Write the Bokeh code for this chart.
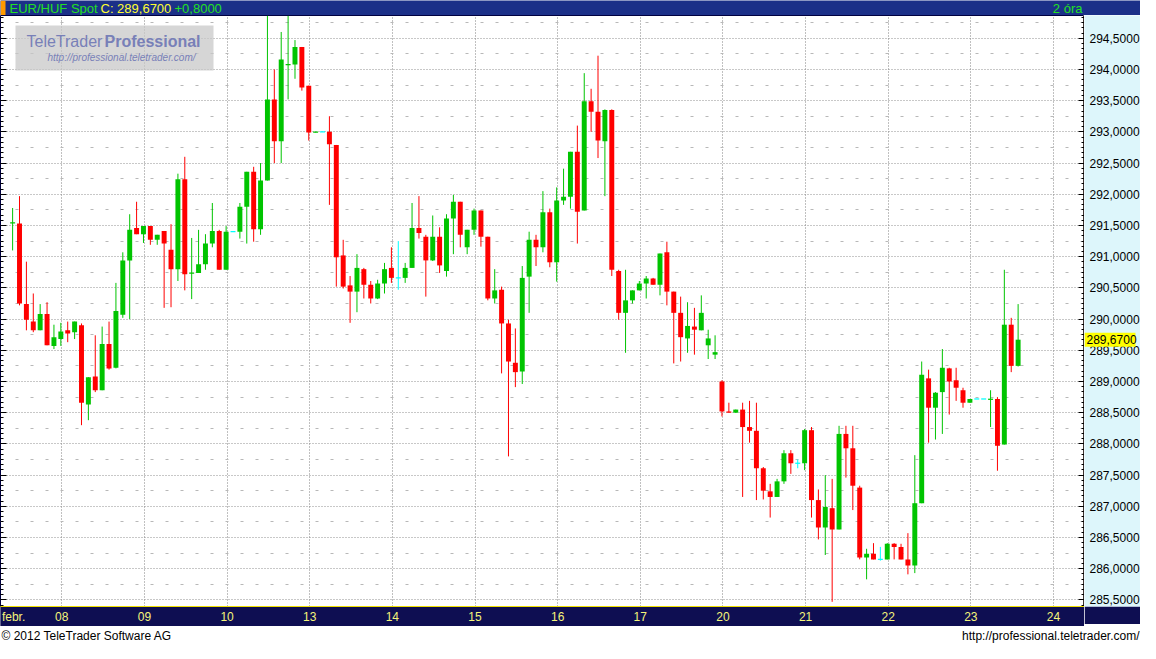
import numpy as np
from bokeh.plotting import figure
from bokeh.layouts import column, row
from bokeh.models import (FixedTicker, LinearAxis, Grid, BoxAnnotation, Label,
                          CustomJSTickFormatter, Range1d, ColumnDataSource)
from bokeh.core.properties import value
from bokeh.embed import file_html
from bokeh.resources import INLINE

# ---------------- data (EUR/HUF spot, 2-hour bars) ----------------
month_label = "febr."
day_labels = ["08", "09", "10", "13", "14", "15", "16", "17", "20", "21", "22", "23", "24"]

opens = [
    291.53, 291.53, 290.24, 289.96, 289.82, 290.08, 289.57, 289.68, 289.82, 289.79,
    289.90, 288.63, 289.08, 288.86, 289.60, 289.22, 290.07, 290.94, 291.46, 291.36,
    291.49, 291.27, 291.41, 291.11, 290.80, 292.24, 290.73, 290.74, 290.88, 291.21,
    291.41, 290.79, 291.40, 291.40, 291.80, 292.36, 291.44, 292.22, 293.52, 292.85,
    294.07, 294.08, 294.36, 293.74, 292.99, 293.00, 293.00, 292.79, 291.02, 290.54,
    290.44, 290.80, 290.55, 290.33, 290.57, 290.82, 290.66, 290.66, 290.82, 291.46,
    291.32, 290.94, 291.32, 290.77, 291.61, 291.88, 291.15, 291.43, 291.74, 291.32,
    290.33, 290.47, 289.93, 289.30, 289.16, 290.68, 291.27, 291.15, 291.71, 290.91,
    291.90, 291.96, 292.68, 291.74, 293.49, 293.32, 292.85, 293.35, 290.77, 290.10,
    290.30, 290.46, 290.57, 290.65, 290.55, 291.07, 290.44, 290.10, 289.69, 289.88,
    289.82, 289.58, 289.43, 289.00, 288.52, 288.50, 288.55, 288.27, 288.21, 287.61,
    287.24, 287.15, 287.40, 287.85, 287.69, 287.69, 288.22, 287.10, 286.66, 286.97,
    286.63, 288.16, 287.93, 287.30, 286.18, 286.24, 286.15, 286.15, 286.40, 286.35,
    286.15, 286.05, 287.05, 289.05, 288.58, 288.83, 289.21, 289.02, 288.86, 288.66,
    288.72, 288.72, 288.71, 288.72, 287.99, 289.91, 289.25]

highs = [
    291.78, 291.97, 290.92, 290.41, 290.24, 290.27, 289.91, 289.94, 289.96, 289.96,
    289.93, 289.07, 289.74, 289.88, 289.96, 290.58, 291.07, 291.68, 291.88, 291.49,
    291.49, 291.35, 291.41, 291.52, 292.33, 292.60, 291.30, 291.43, 291.36, 291.86,
    291.43, 291.49, 291.40, 291.86, 292.36, 292.44, 292.50, 294.86, 294.00, 294.60,
    294.86, 294.47, 294.36, 293.74, 293.00, 293.00, 293.25, 292.79, 291.27, 290.69,
    291.04, 290.82, 290.61, 290.63, 290.90, 291.15, 291.25, 290.90, 291.86, 291.97,
    291.35, 291.66, 291.47, 291.68, 291.99, 291.88, 291.43, 291.77, 291.74, 291.32,
    290.80, 290.52, 289.99, 289.85, 290.85, 291.40, 291.35, 292.05, 291.77, 292.11,
    292.41, 292.68, 293.10, 293.94, 293.69, 294.22, 293.36, 293.36, 290.79, 290.79,
    290.46, 290.61, 290.69, 290.66, 291.05, 291.24, 290.44, 290.36, 290.27, 290.18,
    290.38, 289.83, 289.74, 289.02, 288.66, 288.55, 288.66, 288.69, 288.66, 287.63,
    287.36, 287.44, 287.90, 287.90, 287.75, 288.24, 288.27, 287.27, 287.50, 287.44,
    288.29, 288.29, 288.29, 287.33, 286.32, 286.41, 286.35, 286.41, 286.41, 286.40,
    286.57, 287.82, 289.32, 289.19, 288.83, 289.52, 289.22, 289.22, 288.90, 288.72,
    288.72, 288.72, 288.86, 288.75, 290.79, 290.02, 290.24]

lows = [
    291.10, 290.22, 289.82, 289.79, 289.82, 289.58, 289.52, 289.57, 289.63, 289.68,
    288.30, 288.38, 288.83, 288.86, 289.19, 289.21, 290.02, 290.00, 291.36, 291.22,
    291.19, 291.19, 290.18, 290.19, 290.61, 290.46, 290.32, 290.74, 290.79, 291.15,
    290.79, 290.79, 291.40, 291.29, 291.21, 291.24, 291.35, 292.22, 292.50, 292.50,
    293.52, 293.85, 293.66, 292.86, 292.99, 293.00, 291.83, 290.52, 290.49, 289.94,
    290.11, 290.33, 290.25, 290.32, 290.41, 290.58, 290.47, 290.58, 290.82, 291.29,
    290.36, 290.93, 290.74, 290.68, 291.04, 291.15, 291.04, 291.35, 291.16, 290.30,
    290.25, 289.13, 287.80, 288.91, 288.96, 290.10, 290.85, 291.07, 290.83, 290.60,
    291.83, 291.77, 291.21, 291.74, 293.00, 292.58, 291.97, 290.69, 289.99, 289.46,
    290.25, 290.46, 290.33, 290.55, 290.38, 290.22, 289.29, 289.32, 289.46, 289.43,
    289.82, 289.36, 289.36, 288.44, 288.50, 288.50, 287.15, 288.02, 287.10, 287.11,
    286.82, 287.15, 287.36, 287.52, 287.61, 287.58, 286.82, 286.47, 286.22, 285.47,
    286.63, 287.46, 286.94, 286.15, 285.83, 286.15, 286.13, 286.15, 286.15, 286.15,
    285.91, 285.93, 287.05, 288.02, 288.07, 288.16, 288.47, 288.69, 288.58, 288.66,
    288.72, 288.72, 288.27, 287.57, 287.99, 289.15, 289.24]

closes = [
    291.55, 290.25, 289.99, 289.82, 290.08, 289.58, 289.71, 289.80, 289.77, 289.96,
    288.66, 289.07, 288.86, 289.60, 289.21, 290.13, 290.94, 291.43, 291.36, 291.49,
    291.27, 291.35, 291.21, 290.80, 292.24, 290.72, 290.74, 290.88, 291.21, 291.41,
    290.79, 291.40, 291.40, 291.80, 292.36, 291.44, 292.22, 293.52, 292.85, 294.16,
    294.08, 294.36, 293.71, 292.99, 293.00, 293.00, 292.80, 290.99, 290.52, 290.44,
    290.82, 290.55, 290.33, 290.57, 290.80, 290.66, 290.66, 290.82, 291.46, 291.38,
    290.94, 291.32, 290.86, 291.61, 291.88, 291.35, 291.43, 291.74, 291.32, 290.33,
    290.46, 289.93, 289.32, 289.15, 290.66, 291.27, 291.15, 291.71, 290.91, 291.90,
    291.96, 292.68, 291.72, 293.49, 293.32, 292.86, 293.35, 290.79, 290.10, 290.30,
    290.46, 290.57, 290.65, 290.55, 291.05, 290.44, 290.10, 289.71, 289.89, 289.83,
    290.10, 289.69, 289.47, 288.52, 288.50, 288.55, 288.27, 288.21, 287.61, 287.25,
    287.15, 287.40, 287.85, 287.69, 287.69, 288.22, 287.10, 286.66, 286.99, 286.63,
    288.16, 287.93, 287.33, 286.18, 286.24, 286.15, 286.15, 286.40, 286.35, 286.15,
    286.05, 287.05, 289.11, 288.58, 288.82, 289.22, 289.00, 288.90, 288.66, 288.72,
    288.72, 288.72, 288.72, 287.97, 289.91, 289.25, 289.67]

price_ticks = [285.5 + 0.5 * k for k in range(19)]
change_value = 0.80
header_symbol = "EUR/HUF Spot"
header_period = "2 óra"
footer_left = "© 2012 TeleTrader Software AG"
footer_right = "http://professional.teletrader.com/"

# ---------------- layout / style constants ----------------
W = 1140
HEADER_H = 15
FOOTER_H = 19
RIGHT_W = 56
FRAME_W = W - RIGHT_W
FRAME_H = 591
BAR_H = 18
BARS_PER_DAY = 12
FIRST_SLOT = 4          # first bar of 7 Feb starts at 08:00
BAR_POS = 0.86
GREEN, RED, CYAN = "#00c400", "#ff0000", "#00ffff"
NAVY_HEAD = "#1b3088"
NAVY_BAR = "#0e0e52"
PANEL = "#ddf6fb"
FONT = "Liberation Sans"


def fmt(v):
    return f"{v:.4f}".replace(".", ",")


o = np.array(opens); c = np.array(closes)
hi = np.array(highs); lo = np.array(lows)
n = len(o)
xs = FIRST_SLOT + np.arange(n) + BAR_POS
colors = np.where(c > o, GREEN, np.where(c < o, RED, CYAN))
top = np.maximum(o, c); bot = np.minimum(o, c)
mid = (top + bot) / 2
hgt = np.maximum(top - bot, 0.02)
src = ColumnDataSource(dict(x=xs, hi=hi, lo=lo, top=mid + hgt / 2, bot=mid - hgt / 2, color=colors))

day_lines = [BARS_PER_DAY * (k + 1) for k in range(len(day_labels))]
x_ticks = [5] + day_lines
x_labels = [month_label] + day_labels
minor_ticks = [285.5 + k / 12 for k in range(-1, 12 * 9 + 5)]
quarter_lines = [t + 0.25 for t in price_ticks]

yr = Range1d(285.395, 294.864)

# ---------------- header ----------------
hdr = figure(width=W, height=HEADER_H, output_backend="svg", toolbar_location=None,
             x_range=Range1d(0, W), y_range=Range1d(HEADER_H, 0),
             x_axis_location=None, y_axis_location=None, min_border=0,
             background_fill_color=NAVY_HEAD, border_fill_color=NAVY_HEAD,
             outline_line_color=None)
for g in hdr.grid:
    g.visible = False
hdr.quad(left=[0], right=[5], top=[0], bottom=[HEADER_H], fill_color="#ff9a00", line_color=None)
last_txt = fmt(closes[-1])
chg_txt = f"{change_value:+.4f}".replace(".", ",")
for xx, txt, col in [(9, header_symbol, "#22e022"), (100, "C: " + last_txt, "#ffff30"),
                     (174, chg_txt, "#22e022")]:
    hdr.add_layout(Label(x=xx, y=HEADER_H / 2, text=txt, text_font=FONT, text_font_size="13px",
                         text_color=col, text_baseline="middle"))
hdr.add_layout(Label(x=FRAME_W - 2, y=HEADER_H / 2, text=header_period, text_font=FONT,
                     text_font_size="13px", text_color="#22e022", text_align="right",
                     text_baseline="middle"))

# ---------------- main chart ----------------
p = figure(frame_width=FRAME_W, frame_height=FRAME_H, output_backend="svg", toolbar_location=None,
           x_range=Range1d(3.1, 160.5), y_range=yr,
           x_axis_location="below", y_axis_location="right", min_border=0,
           background_fill_color="white", border_fill_color=NAVY_BAR,
           outline_line_color="#000040")

xa = p.xaxis[0]
xa.ticker = FixedTicker(ticks=x_ticks)
xa.formatter = CustomJSTickFormatter(args=dict(pos=x_ticks, labels=x_labels),
                                     code="const i = pos.indexOf(tick); return i >= 0 ? labels[i] : '';")
xa.major_tick_in = 0
xa.major_tick_out = 0
xa.minor_tick_in = 0
xa.minor_tick_out = 0
xa.major_tick_line_color = None
xa.minor_tick_line_color = None
xa.axis_line_color = "#f0e000"
xa.axis_line_width = 1
xa.major_label_text_color = "#f5f57a"
xa.major_label_text_font = FONT
xa.major_label_text_font_size = "12px"
xa.major_label_standoff = 3
xa.background_fill_color = NAVY_BAR

ytick = FixedTicker(ticks=price_ticks, minor_ticks=minor_ticks)
blank = CustomJSTickFormatter(code="return '';")
ya = p.yaxis[0]
ya.ticker = ytick
ya.formatter = blank
ya.major_tick_in = 6
ya.major_tick_out = 0
ya.minor_tick_in = 3
ya.minor_tick_out = 0
ya.major_tick_line_color = "black"
ya.minor_tick_line_color = "black"
ya.axis_line_color = "#f0c800"
ya.axis_line_width = 1.5
ya.major_label_standoff = 0

la = LinearAxis(ticker=ytick, formatter=blank,
                major_tick_in=6, major_tick_out=0, minor_tick_in=3, minor_tick_out=0,
                major_tick_line_color="black", minor_tick_line_color="black",
                axis_line_color=None, major_label_standoff=0)
p.add_layout(la, "left")

p.xgrid[0].ticker = FixedTicker(ticks=day_lines)
p.xgrid[0].grid_line_color = "#808080"
p.xgrid[0].grid_line_dash = "1 2"
p.ygrid[0].ticker = FixedTicker(ticks=price_ticks)
p.ygrid[0].grid_line_color = "#909090"
p.ygrid[0].grid_line_dash = "1 2"
p.add_layout(Grid(dimension=1, ticker=FixedTicker(ticks=quarter_lines),
                  grid_line_color="#b8b8b8", grid_line_dash="3 12"))

# watermark
CU = dict(left_units="canvas", right_units="canvas", top_units="canvas", bottom_units="canvas")
p.add_layout(BoxAnnotation(left=15, right=213, top=10, bottom=55, fill_color="#c8c8c8",
                           fill_alpha=0.75, line_color=None, **CU))
p.add_layout(Label(x=26, y=26, x_units="canvas", y_units="canvas", text="TeleTrader",
                   text_font=FONT, text_font_size="16px", text_color="#7880b8",
                   text_baseline="middle"))
p.add_layout(Label(x=104, y=26, x_units="canvas", y_units="canvas", text="Professional",
                   text_font=FONT, text_font_size="16px", text_font_style="bold",
                   text_color="#7880b8", text_baseline="middle"))
p.add_layout(Label(x=47, y=42, x_units="canvas", y_units="canvas",
                   text="http://professional.teletrader.com/", text_font=FONT,
                   text_font_size="10px", text_font_style="italic", text_color="#7880b8",
                   text_baseline="middle"))

# candles
p.segment(x0="x", y0="lo", x1="x", y1="hi", line_color="color", line_width=1, source=src)
p.vbar(x="x", width=0.72, top="top", bottom="bot", fill_color="color", line_color=None, source=src)

# ---------------- price scale panel ----------------
rp = figure(frame_width=RIGHT_W, frame_height=FRAME_H, output_backend="svg", toolbar_location=None,
            x_range=Range1d(0, RIGHT_W), y_range=yr,
            x_axis_location=None, y_axis_location=None, min_border=0, min_border_bottom=BAR_H,
            background_fill_color=PANEL, border_fill_color=NAVY_BAR, outline_line_color=None)
for g in rp.grid:
    g.visible = False
rp.text(x=[5] * len(price_ticks), y=price_ticks, text=[fmt(t) for t in price_ticks],
        text_font=value(FONT), text_font_size="12px", text_color="black", text_baseline="middle")
half = 7 * (yr.end - yr.start) / FRAME_H
rp.quad(left=[0], right=[51], top=[closes[-1] + half], bottom=[closes[-1] - half],
        fill_color="#ffff00", line_color=None)
rp.text(x=[2], y=[closes[-1]], text=[last_txt], text_font=value(FONT), text_font_size="12px",
        text_color="black", text_baseline="middle")

# ---------------- footer ----------------
ftr = figure(width=W, height=FOOTER_H, output_backend="svg", toolbar_location=None,
             x_range=Range1d(0, W), y_range=Range1d(FOOTER_H, 0),
             x_axis_location=None, y_axis_location=None, min_border=0,
             background_fill_color="white", border_fill_color="white", outline_line_color=None)
for g in ftr.grid:
    g.visible = False
ftr.add_layout(Label(x=1, y=FOOTER_H / 2, text=footer_left, text_font=FONT, text_font_size="12px",
                     text_color="black", text_baseline="middle"))
ftr.add_layout(Label(x=W - 1, y=FOOTER_H / 2, text=footer_right, text_font=FONT,
                     text_font_size="12px", text_color="black", text_align="right",
                     text_baseline="middle"))

layout = column(hdr, row(p, rp, spacing=0), ftr, spacing=0)
open("out.html", "w").write(file_html(layout, INLINE))
